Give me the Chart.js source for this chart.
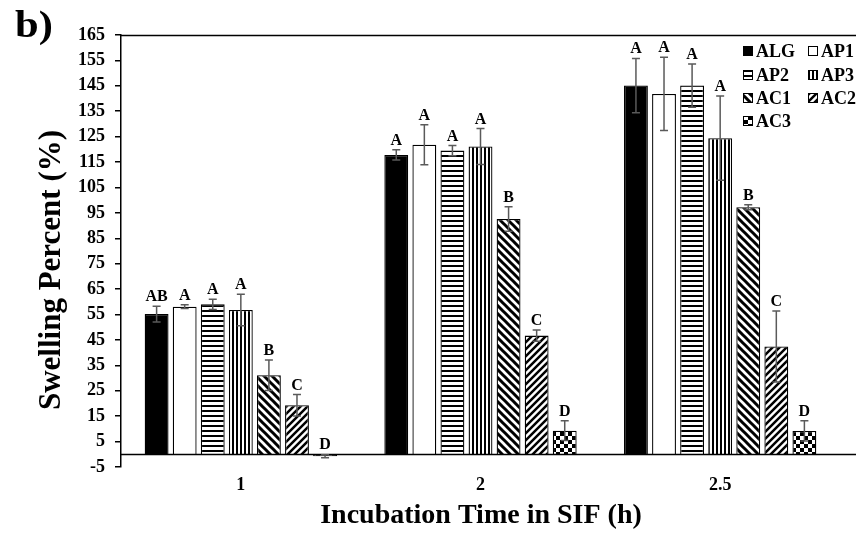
<!DOCTYPE html>
<html>
<head>
<meta charset="utf-8">
<script src="https://cdn.jsdelivr.net/npm/chart.js@4.4.1/dist/chart.umd.min.js"></script>
<style>
html,body{margin:0;padding:0;background:#fff;}
#wrap{width:856px;height:533px;}
</style>
</head>
<body>
<div id="wrap"><canvas id="c" width="856" height="533"></canvas></div>
<script>
// ---- data ----
const categories = ['1', '2', '2.5'];
const seriesNames = ['ALG', 'AP1', 'AP2', 'AP3', 'AC1', 'AC2', 'AC3'];
const ALG = [55.2, 117.8, 145.1];
const AP1 = [58.1, 121.8, 141.8];
const AP2 = [59.0, 119.5, 145.1];
const AP3 = [56.8, 121.1, 124.4];
const AC1 = [31.1, 92.6, 97.2];
const AC2 = [19.3, 46.7, 42.4];
const AC3 = [-0.8, 9.3, 9.2];
const errALG = [3.1, 2.0, 10.7];
const errAP1 = [0.7, 7.9, 14.4];
const errAP2 = [2.0, 2.0, 8.5];
const errAP3 = [6.2, 7.1, 16.6];
const errAC1 = [6.0, 4.8, 1.0];
const errAC2 = [4.2, 2.2, 14.0];
const errAC3 = [0.6, 3.9, 4.0];
const letALG = ['AB', 'A', 'A'];
const letAP1 = ['A', 'A', 'A'];
const letAP2 = ['A', 'A', 'A'];
const letAP3 = ['A', 'A', 'A'];
const letAC1 = ['B', 'B', 'B'];
const letAC2 = ['C', 'C', 'C'];
const letAC3 = ['D', 'D', 'D'];
const yTicks = [-5, 5, 15, 25, 35, 45, 55, 65, 75, 85, 95, 105, 115, 125, 135, 145, 155, 165];

const values = [ALG, AP1, AP2, AP3, AC1, AC2, AC3];
const errors = [errALG, errAP1, errAP2, errAP3, errAC1, errAC2, errAC3];
const letters = [letALG, letAP1, letAP2, letAP3, letAC1, letAC2, letAC3];

// ---- patterns ----
function mk(w, h, draw) {
  const c = document.createElement('canvas');
  c.width = w; c.height = h;
  const x = c.getContext('2d');
  x.fillStyle = '#fff'; x.fillRect(0, 0, w, h);
  x.fillStyle = '#000'; x.strokeStyle = '#000';
  draw(x, w, h);
  return document.getElementById('c').getContext('2d').createPattern(c, 'repeat');
}
const patSolid = '#000';
const patWhite = '#fff';
const patH = mk(4, 5, (x) => { x.fillRect(0, 0, 4, 2); });
const patV = mk(4, 4, (x) => { x.fillRect(0, 0, 2, 4); });
const patBack = mk(8, 8, (x, w, h) => {
  x.lineWidth = 3;
  x.beginPath();
  x.moveTo(-2, -2); x.lineTo(w + 2, h + 2);
  x.moveTo(-2, h - 2); x.lineTo(2, h + 2);
  x.moveTo(w - 2, -2); x.lineTo(w + 2, 2);
  x.stroke();
});
const patFwd = mk(7, 7, (x, w, h) => {
  x.lineWidth = 2.5;
  x.beginPath();
  x.moveTo(-2, h + 2); x.lineTo(w + 2, -2);
  x.moveTo(-2, 2); x.lineTo(2, -2);
  x.moveTo(w - 2, h + 2); x.lineTo(w + 2, h - 2);
  x.stroke();
});
const patCheck = mk(8, 8, (x) => { x.fillRect(0, 0, 4, 4); x.fillRect(4, 4, 4, 4); });
const fills = [patSolid, patWhite, patH, patV, patBack, patFwd, patCheck];

const SERIF = '"Liberation Serif", "Times New Roman", serif';

const datasets = seriesNames.map((n, i) => ({
  label: n,
  data: values[i],
  backgroundColor: fills[i],
  borderColor: '#000',
  borderWidth: 1.3,
  categoryPercentage: 0.82,
  barPercentage: 0.85
}));

// ---- plugin: error bars, letters, legend, titles ----
const deco = {
  id: 'deco',
  afterDatasetsDraw(chart) {
    const ctx = chart.ctx;
    const y = chart.scales.y;
    const a = chart.chartArea;
    ctx.save();
    // zero line & top line
    ctx.strokeStyle = '#000';
    ctx.lineWidth = 1.5;
    const y0 = Math.round(y.getPixelForValue(0)) + 0.5;
    ctx.beginPath(); ctx.moveTo(a.left, y0); ctx.lineTo(856, y0); ctx.stroke();
    ctx.beginPath(); ctx.moveTo(a.left, a.top + 0.5); ctx.lineTo(856, a.top + 0.5); ctx.stroke();
    // error bars + letters
    chart.data.datasets.forEach((ds, i) => {
      const meta = chart.getDatasetMeta(i);
      meta.data.forEach((bar, j) => {
        const v = values[i][j], e = errors[i][j];
        const yt = y.getPixelForValue(v + e);
        const yb = y.getPixelForValue(v - e);
        ctx.strokeStyle = '#5a5a5a';
        ctx.lineWidth = 1.5;
        ctx.beginPath();
        ctx.moveTo(bar.x, yt); ctx.lineTo(bar.x, yb);
        ctx.moveTo(bar.x - 4, yt); ctx.lineTo(bar.x + 4, yt);
        ctx.moveTo(bar.x - 4, yb); ctx.lineTo(bar.x + 4, yb);
        ctx.stroke();
        const top = Math.min(yt, y.getPixelForValue(Math.max(v, 0)));
        ctx.fillStyle = '#000';
        ctx.font = 'bold 16px ' + SERIF;
        ctx.textAlign = 'center';
        ctx.textBaseline = 'alphabetic';
        ctx.fillText(letters[i][j], bar.x, top - 5);
      });
    });
    // legend
    const rows = [51, 75, 98, 121];
    const colBox = [743, 808];
    ctx.font = 'bold 18px ' + SERIF;
    ctx.textAlign = 'left';
    ctx.textBaseline = 'middle';
    seriesNames.forEach((n, i) => {
      const r = Math.floor(i / 2), c = i % 2;
      const bx = colBox[c], by = rows[r] - 5;
      ctx.fillStyle = fills[i];
      ctx.fillRect(bx, by, 10, 10);
      ctx.strokeStyle = '#000';
      ctx.lineWidth = 1;
      ctx.strokeRect(bx + 0.5, by + 0.5, 9, 9);
      ctx.fillStyle = '#000';
      ctx.fillText(n, bx + 13, rows[r] + 1);
    });
    // axis titles
    ctx.font = 'bold 28px ' + SERIF;
    ctx.textAlign = 'center';
    ctx.textBaseline = 'middle';
    ctx.fillText('Incubation Time in SIF (h)', 481, 516);
    ctx.save();
    ctx.font = 'bold 31px ' + SERIF;
    ctx.translate(52, 270);
    ctx.rotate(-Math.PI / 2);
    ctx.fillText('Swelling Percent (%)', 0, 0);
    ctx.restore();
    // panel label
    ctx.save();
    ctx.font = 'bold 38px ' + SERIF;
    ctx.textAlign = 'left';
    ctx.textBaseline = 'alphabetic';
    ctx.translate(15, 37);
    ctx.scale(1.12, 1);
    ctx.fillText('b)', 0, 0);
    ctx.restore();
    ctx.restore();
  }
};

new Chart(document.getElementById('c'), {
  type: 'bar',
  data: { labels: categories, datasets },
  options: {
    responsive: false,
    animation: false,
    devicePixelRatio: 1,
    layout: { padding: { left: 0, top: 35, right: 16, bottom: 0 } },
    plugins: { legend: { display: false }, tooltip: { enabled: false } },
    scales: {
      x: {
        grid: { display: false, drawTicks: false },
        border: { display: false },
        ticks: { color: '#000', font: { family: SERIF, size: 18, weight: 'bold' }, padding: 8 },
        afterFit(s) { s.height = 66; }
      },
      y: {
        min: -5, max: 165,
        afterBuildTicks(s) { s.ticks = yTicks.map(v => ({ value: v })); },
        grid: { drawOnChartArea: false, drawTicks: true, tickLength: 6, color: '#000', lineWidth: 1.5 },
        border: { color: '#000', width: 1.5 },
        ticks: { color: '#000', font: { family: SERIF, size: 18, weight: 'bold' }, padding: 10 },
        afterFit(s) { s.width = 121; }
      }
    }
  },
  plugins: [deco]
});
</script>
</body>
</html>
